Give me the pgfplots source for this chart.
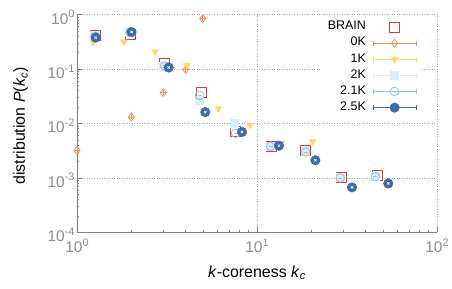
\documentclass[border=0pt]{standalone}
\usepackage{fontspec}
\setmainfont{Liberation Sans}
\usepackage{pgfplots}
\pgfplotsset{compat=1.18}
\definecolor{cbrain}{RGB}{222,58,56}
\definecolor{c0k}{RGB}{248,140,84}
\definecolor{c1k}{RGB}{253,214,110}
\definecolor{c2k}{RGB}{218,236,249}
\definecolor{c21k}{RGB}{152,196,226}
\definecolor{c25k}{RGB}{58,106,180}
\definecolor{tickgray}{RGB}{140,140,140}
\definecolor{axgray}{RGB}{128,128,128}
\newcommand\tp[1]{10\raisebox{0.42em}{\fontsize{11}{11}\selectfont #1}}
\newcommand\errimg[2]{%
  \addlegendimage{legend image code/.code={%
    \draw[#1,line width=0.9pt] (0bp,0bp)--(43bp,0bp) (0bp,-2.5bp)--(0bp,2.5bp) (43bp,-2.5bp)--(43bp,2.5bp);
    \draw[#2] plot coordinates {(21.5bp,0bp)};%
  }}%
}
\begin{document}
\begin{tikzpicture}
\begin{axis}[
  scale only axis, width=360bp, height=217.6bp,
  xmode=log, ymode=log,
  xmin=1, xmax=100, ymin=1e-4, ymax=1,
  clip=false,
  axis x line*=bottom, axis y line*=left,
  axis line style={axgray, line width=0.8pt},
  tick style={axgray, line width=0.6pt},
  tick align=inside,
  major tick length=5bp, minor tick length=2.5bp,
  xtick={1,10,100},
  xticklabels={\tp{0},\tp{1},\tp{2}},
  minor xtick={2,3,4,5,6,7,8,9,20,30,40,50,60,70,80,90},
  ytick={1e-4,1e-3,1e-2,1e-1,1},
  yticklabels={\tp{-4},\tp{-3},\tp{-2},\tp{-1},\tp{0}},
  minor ytick={2e-4,3e-4,4e-4,5e-4,6e-4,7e-4,8e-4,9e-4,2e-3,3e-3,4e-3,5e-3,6e-3,7e-3,8e-3,9e-3,2e-2,3e-2,4e-2,5e-2,6e-2,7e-2,8e-2,9e-2,2e-1,3e-1,4e-1,5e-1,6e-1,7e-1,8e-1,9e-1},
  ticklabel style={tickgray, font=\fontsize{15.5}{17}\selectfont},
  xticklabel style={yshift=-3bp},
  yticklabel style={xshift=1bp, yshift=-2.5bp},
  grid=major,
  major grid style={gray!70, line width=0.5pt, dash pattern=on 1bp off 1.5bp},
  xlabel={\textit{k}-coreness \textit{k}\textsubscript{\textit{c}}},
  ylabel={distribution \textit{P}(\textit{k}\textsubscript{\textit{c}})},
  every axis x label/.style={at={(rel axis cs:0.5,0)}, yshift=-45bp, anchor=base, font=\fontsize{16}{19}\selectfont},
  every axis y label/.style={at={(rel axis cs:0,0.49)}, xshift=-52bp, rotate=90, anchor=base, font=\fontsize{16}{19}\selectfont},
  legend plot pos=right,
  legend cell align=right,
  legend style={at={(0.952,0.99)}, anchor=north east, draw=none, fill=white,
    font=\fontsize{12.5}{14}\selectfont, column sep=4bp,
    nodes={inner sep=2.8bp, text height=8bp, text depth=2.5bp}},
]
% BRAIN
\addplot[only marks, mark=square, mark size=5bp, mark options={draw=cbrain, line width=0.9pt}, forget plot]
  coordinates {(1.26,0.42) (1.97,0.44) (3.08,0.128) (4.89,0.0376) (7.64,0.0070) (11.96,0.00383) (18.7,0.00313) (29.3,0.00103) (46.4,0.00109)};
% 0K
\addplot[only marks, mark=diamond, mark size=4bp, mark options={draw=c0k, fill=white, line width=0.8pt}, forget plot]
  coordinates {(1,0.0032) (2.0,0.0132) (3.01,0.037) (4.02,0.098) (4.99,0.85)};
\addplot[only marks, mark=+, mark size=2.5bp, mark options={draw=c0k, line width=0.6pt}, forget plot]
  coordinates {(1,0.0032) (2.0,0.0132) (3.01,0.037) (4.02,0.098) (4.99,0.85)};
% 1K
\addplot[only marks, mark=triangle*, mark size=4bp, mark options={rotate=180, draw=c1k, fill=c1k}, forget plot]
  coordinates {(1.23,0.316) (1.82,0.316) (2.72,0.207) (4.08,0.118) (6.1,0.0189) (9.15,0.0093) (13.7,0.0044) (20.4,0.0047)};
% 2K
\addplot[only marks, mark=square*, mark size=4bp, mark options={draw=c2k, fill=c2k}, forget plot]
  coordinates {(1.25,0.42) (1.95,0.48) (3.0,0.115) (4.8,0.027) (7.5,0.0101) (11.9,0.0039) (18.6,0.0031) (29,0.00102) (45.5,0.00108)};
% 2.1K
\addplot[only marks, mark=o, mark size=4.3bp, mark options={draw=c21k, line width=0.9pt}, forget plot]
  coordinates {(1.26,0.40) (1.97,0.477) (3.07,0.115) (4.8,0.033) (7.6,0.0066) (11.9,0.0038) (18.6,0.0030) (29.0,0.0010) (45.5,0.00105)};
\addplot[only marks, mark=-, mark size=2bp, mark options={draw=c21k, line width=0.8pt}, forget plot]
  coordinates {(1.26,0.40) (1.97,0.477) (3.07,0.115) (4.8,0.033) (7.6,0.0066) (11.9,0.0038) (18.6,0.0030) (29.0,0.0010) (45.5,0.00105)};
% 2.5K
\addplot[only marks, mark=*, mark size=4.8bp, mark options={draw=c25k, fill=c25k}, forget plot]
  coordinates {(1.27,0.38) (2.01,0.48) (3.23,0.107) (5.16,0.0162) (8.26,0.0070) (13.25,0.0039) (21.1,0.00211) (33.7,0.00067) (53.6,0.00079)};
\addplot[only marks, mark=x, mark size=1.6bp, mark options={draw=white, line width=0.7pt}, forget plot]
  coordinates {(1.27,0.38) (2.01,0.48) (3.23,0.107) (5.16,0.0162) (8.26,0.0070) (13.25,0.0039) (21.1,0.00211) (33.7,0.00067) (53.6,0.00079)};
% legend
\addlegendimage{legend image code/.code={\draw[cbrain,line width=0.9pt,mark=square,mark size=5bp] plot coordinates {(21.5bp,0bp)}; \path (0bp,0bp) (43bp,0bp);}}
\addlegendentry{BRAIN}
\errimg{c0k}{c0k,mark=diamond,mark size=4bp,mark options={fill=white,line width=0.8pt}}
\addlegendentry{0K}
\errimg{c1k}{c1k,mark=triangle*,mark size=4bp,mark options={rotate=180,fill=c1k}}
\addlegendentry{1K}
\errimg{c2k}{c2k,mark=square*,mark size=4bp,mark options={fill=c2k}}
\addlegendentry{2K}
\errimg{c21k}{c21k,mark=o,mark size=4.3bp,mark options={line width=0.9pt,fill=white}}
\addlegendentry{2.1K}
\errimg{c25k}{c25k,mark=*,mark size=4.8bp,mark options={fill=c25k}}
\addlegendentry{2.5K}
\end{axis}
\pgfresetboundingbox
\path[use as bounding box] (-77bp,-56.7bp) rectangle (375bp,232.3bp);
\end{tikzpicture}
\end{document}
